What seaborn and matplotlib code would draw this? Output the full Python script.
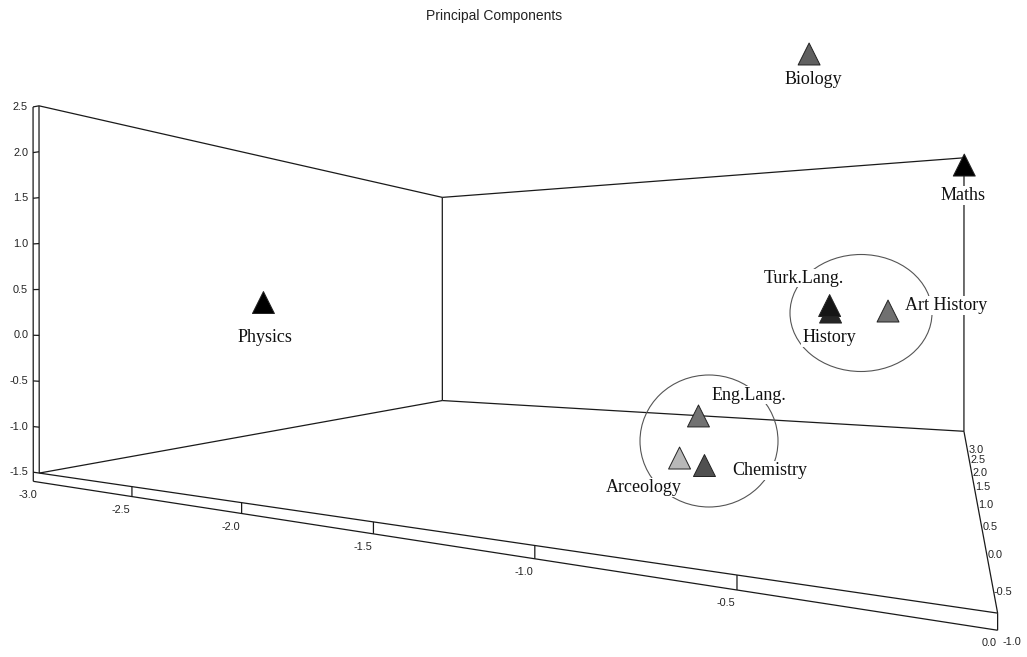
import numpy as np
import matplotlib
matplotlib.use("Agg")
import matplotlib.pyplot as plt
import seaborn as sns
import pandas as pd
from matplotlib.patches import Ellipse

sns.set_style("white")
plt.rcParams['font.family'] = ['Liberation Sans', 'DejaVu Sans']

# ---- data: principal component scores (PC3 is the depth axis) ----
subjects = ["Physics", "Biology", "Maths", "Turk.Lang.", "History",
            "Art History", "Eng.Lang.", "Arceology", "Chemistry"]
pc1 = [-1.910, -0.487, -0.057, -0.332, -0.349, -0.257, -0.908, -1.196, -0.791]
pc2 = [0.341, 2.824, 1.127, 0.301, 0.254, 0.261, -0.924, -1.827, -1.270]
pc3 = [-1.00, 0.51, -1.00, -0.67, -0.42, 0.76, 0.79, 1.89, 0.25]

x_range = (-3.0, 0.0)
y_range = (-1.5, 2.5)
z_range = (-1.0, 3.0)
x_ticks = [-3.0, -2.5, -2.0, -1.5, -1.0, -0.5, 0.0]
y_ticks = [2.5, 2.0, 1.5, 1.0, 0.5, 0.0, -0.5, -1.0, -1.5]
z_ticks = [3.0, 2.5, 2.0, 1.5, 1.0, 0.5, 0.0, -0.5, -1.0]

# ---- view: perspective camera calibrated on the box corners (pixel layout) ----
calib3d = np.array([
    (-3, -1.5, -1), (-3, 2.5, -1), (-3, -1.5, 3), (-3, 2.5, 3),
    (0, -1.5, 3), (0, 2.5, 3), (0, -1.5, -1),
    (-2.5, -1.5, -1), (-2, -1.5, -1), (-1.5, -1.5, -1), (-1, -1.5, -1), (-0.5, -1.5, -1)], float)
calib2d = np.array([
    (39, 473), (39, 105.7), (442.3, 400.7), (442.3, 197.3),
    (964, 431), (964, 158), (998, 613.3),
    (132.7, 486.7), (241.3, 502.6), (373.3, 521.9), (535, 545.6), (736.3, 575.0)], float)


def fit_camera(X, uv):
    m2 = uv.mean(0); s2 = np.sqrt(2) / np.mean(np.linalg.norm(uv - m2, axis=1))
    T2 = np.array([[s2, 0, -s2 * m2[0]], [0, s2, -s2 * m2[1]], [0, 0, 1]])
    m3 = X.mean(0); s3 = np.sqrt(3) / np.mean(np.linalg.norm(X - m3, axis=1))
    T3 = np.diag([s3, s3, s3, 1.0]); T3[:3, 3] = -s3 * m3
    Xn = (T3 @ np.c_[X, np.ones(len(X))].T).T
    un = (T2 @ np.c_[uv, np.ones(len(uv))].T).T
    rows = []
    for (a, b, c, d), (u, v, _) in zip(Xn, un):
        rows.append([a, b, c, d, 0, 0, 0, 0, -u * a, -u * b, -u * c, -u * d])
        rows.append([0, 0, 0, 0, a, b, c, d, -v * a, -v * b, -v * c, -v * d])
    _, _, vt = np.linalg.svd(np.array(rows))
    return np.linalg.inv(T2) @ vt[-1].reshape(3, 4) @ T3


P = fit_camera(calib3d, calib2d)


def proj(x, y, z):
    h = P @ np.array([x, y, z, 1.0])
    return h[0] / h[2], h[1] / h[2]


fig = plt.figure(figsize=(10.27, 6.57), dpi=100)
ax = fig.add_axes([0, 0, 1, 1])

line_kw = dict(color='#1a1a1a', lw=0.9, zorder=1, solid_capstyle='butt')


def seg(p, q):
    a = proj(*p); b = proj(*q)
    ax.plot([a[0], b[0]], [a[1], b[1]], **line_kw)


x0, x1 = x_range; y0, y1 = y_range; z0, z1 = z_range
# back panes of the box
seg((x0, y0, z0), (x0, y1, z0))
seg((x0, y0, z1), (x0, y1, z1))
seg((x1, y0, z1), (x1, y1, z1))
seg((x0, y1, z0), (x0, y1, z1))
seg((x0, y1, z1), (x1, y1, z1))
seg((x0, y0, z0), (x0, y0, z1))
seg((x0, y0, z1), (x1, y0, z1))
seg((x1, y0, z1), (x1, y0, z0))
seg((x0, y0, z0), (x1, y0, z0))
# axis ribbons with ticks
xo = x0 - 0.035
yo = y0 - 0.1
seg((xo, yo, z0), (xo, y1, z0))
seg((xo, yo, z0), (x1, yo, z0))
tick_fs = 7.8
for yt in y_ticks:
    seg((xo, yt, z0), (x0, yt, z0))
    u, v = proj(xo, yt, z0)
    ax.text(u - 5, v, f"{yt:.1f}", ha='right', va='center', fontsize=tick_fs, color='#222')
for xt in x_ticks:
    if xt != x0:
        seg((xt, y0, z0), (xt, yo, z0))
    u, _ = proj(xt, y0, z0)
    _, v = proj(xt, yo, z0)
    ax.text(u - 1.5, v + 8, f"{xt:.1f}", ha='right', va='top', fontsize=tick_fs, color='#222')
for zt in z_ticks:
    u, v = proj(x1, yo, zt)
    ax.text(u + 5, v + 12, f"{zt:.1f}", ha='left', va='center', fontsize=tick_fs, color='#222')

# cluster rings (annotation)
for (cx, cy, w, h) in [(861, 313, 142, 117), (709, 441, 138, 132)]:
    ax.add_patch(Ellipse((cx, cy), w, h, fill=False, ec='#555555', lw=0.8, zorder=2))

# points: projected through the camera, shaded by depth (PC3)
pu, pv = zip(*[proj(a, b, c) for a, b, c in zip(pc1, pc2, pc3)])
shade = [str(min(max((z - z0) / (z1 - z0), 0), 1)) for z in pc3]
df = pd.DataFrame({"u": pu, "v": pv, "subject": subjects, "depth": pc3})
df = df.sort_values("depth", ascending=False)
pal = {s: c for s, c in zip(subjects, shade)}
sns.scatterplot(data=df, x="u", y="v", hue="subject", palette=pal, marker='^',
                s=250, linewidth=0.7, legend=False, ax=ax, zorder=3)
ax.collections[-1].set_edgecolors(['#222222'] * len(df))

label_off = [(2, 39), (4, 29.6), (-1, 34.6), (-25.5, -23), (-1.5, 29.6),
             (58.5, -1.4), (50, -16.4), (-36, 33.6), (65.5, 9.1)]
for s, u, v, (dx, dy) in zip(subjects, pu, pv, label_off):
    ax.text(u + dx, v + dy, s, ha='center', va='baseline', fontsize=13,
            family=['Liberation Serif', 'DejaVu Serif'], color='#111', zorder=4,
            bbox=dict(boxstyle='square,pad=0.05', fc='white', ec='none'))

ax.set_xlim(0, 1027)
ax.set_ylim(657, 0)
ax.axis('off')

fig.text(494 / 1027, 1 - 16 / 657, "Principal Components", ha='center', va='center',
         fontsize=10, color='#222')

fig.savefig("out.png", dpi=100)
